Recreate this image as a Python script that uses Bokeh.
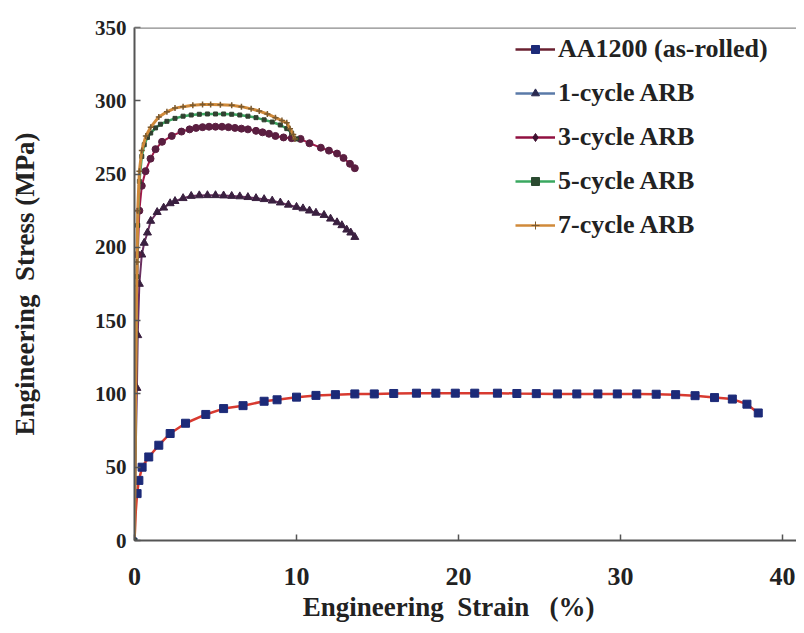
from bokeh.plotting import figure
from bokeh.models import Legend, LegendItem, Span, Range1d, FixedTicker
from bokeh.embed import file_html
from bokeh.resources import INLINE

# ---- data ----
aa_strain = [0, 0.08, 0.16, 0.27, 0.47, 0.88, 1.5, 2.2, 3.15, 4.4, 5.5, 6.7, 8.0, 8.8, 10.0,
             11.2, 12.4, 13.6, 14.8, 16.0, 17.4, 18.6, 19.8, 21.0, 22.4, 23.6, 24.8, 26.1,
             27.3, 28.6, 29.8, 31.0, 32.2, 33.4, 34.6, 35.8, 36.9, 37.8, 38.5]
aa_stress = [0, 20, 32, 41, 50, 57, 65, 73, 80, 86, 90, 92, 95, 96, 97.8,
             99, 99.5, 100, 100, 100.3, 100.5, 100.5, 100.5, 100.5, 100.5, 100.3, 100.2, 100,
             100, 100, 100, 100, 99.8, 99.5, 98.8, 97.5, 96.5, 93, 87]

c1_strain = [0, 0.05, 0.1, 0.15, 0.2, 0.3, 0.45, 0.6, 0.8, 1.0, 1.4, 1.8, 2.2, 2.5, 3.0, 3.5,
             4.0, 4.5, 5.0, 5.5, 6.0, 6.5, 7.0, 7.5, 8.0, 8.5, 9.0, 9.5, 10.0, 10.4, 10.8,
             11.2, 11.7, 12.1, 12.5, 12.8, 13.1, 13.35, 13.6]
c1_stress = [0, 40, 75, 104, 140, 175, 195, 203, 210, 218, 224, 227, 230, 231.5, 233.5, 235,
             235.4, 235.5, 235.5, 235.3, 235, 234.7, 234.2, 233.5, 232.8, 231.8, 230.5, 229,
             227.5, 226.5, 225, 223.5, 222, 219.5, 217, 215, 212, 210, 207]

c3_strain = [0, 0.05, 0.1, 0.15, 0.2, 0.3, 0.45, 0.68, 0.99, 1.3, 1.7, 2.3, 2.9, 3.4, 3.8,
             4.2, 4.6, 5.0, 5.4, 5.8, 6.2, 6.6, 7.0, 7.5, 7.9, 8.3, 8.7, 9.2, 9.7, 10.25,
             10.8, 11.5, 12.0, 12.5, 12.9, 13.3, 13.6]
c3_stress = [0, 60, 110, 160, 195, 225, 242, 252, 260.5, 267, 272, 276, 279, 280.5, 281.5,
             282, 282.3, 282.3, 282.3, 282, 281.5, 281, 280.5, 279.5, 278.5, 277.5, 276, 275,
             274.5, 274, 271, 268, 266, 264, 261, 257, 254]

c5_strain = [0, 0.05, 0.1, 0.15, 0.2, 0.3, 0.45, 0.6, 0.8, 1.0, 1.3, 1.6, 2.0, 2.5, 3.0, 3.5,
             4.0, 4.5, 5.0, 5.5, 6.0, 6.5, 7.0, 7.5, 8.0, 8.5, 9.0, 9.4, 9.7, 10.0]
c5_stress = [0, 70, 130, 180, 215, 245, 262, 270, 275, 278, 281.5, 284, 286, 288, 289.5,
             290.3, 290.8, 291, 291, 291, 290.8, 290.3, 289.5, 288.5, 287, 285.5, 283.5,
             281, 278, 274]

c7_strain = [0, 0.05, 0.1, 0.15, 0.2, 0.3, 0.45, 0.7, 1.0, 1.5, 2.0, 2.5, 3.0, 3.6, 4.2, 4.7,
             5.3, 6.0, 6.6, 7.2, 7.7, 8.2, 8.7, 9.1, 9.4, 9.6, 9.8, 9.9]
c7_stress = [0, 80, 140, 190, 225, 252, 266, 276, 282, 289, 292.5, 295, 296, 297, 297.5,
             297.5, 297.3, 297, 296, 294.5, 293, 291, 288.5, 286.5, 285, 281, 277, 274]

series_names = ["AA1200 (as-rolled)", "1-cycle ARB", "3-cycle ARB", "5-cycle ARB", "7-cycle ARB"]
x_ticks = [0, 10, 20, 30, 40]
y_ticks = [0, 50, 100, 150, 200, 250, 300, 350]

FONT = "Liberation Serif"
NB = "\u00a0"

p = figure(width=796, height=625, output_backend="svg", toolbar_location=None,
           x_range=Range1d(0, 40.86), y_range=Range1d(0, 350),
           min_border_left=134, min_border_right=0, min_border_top=27, min_border_bottom=85)
p.background_fill_color = "white"
p.border_fill_color = "white"
p.outline_line_color = None
p.grid.visible = False

for ax in (p.xaxis[0], p.yaxis[0]):
    ax.axis_line_color = "#555555"
    ax.axis_line_width = 2
    ax.major_tick_line_color = "#555555"
    ax.major_tick_line_width = 1.5
    ax.major_tick_in = 6
    ax.major_tick_out = 0
    ax.minor_tick_line_color = None
    ax.major_label_text_font = FONT
    ax.major_label_text_font_style = "bold"
    ax.major_label_text_color = "#222222"
    ax.axis_label_text_font = FONT
    ax.axis_label_text_font_style = "bold"
    ax.axis_label_text_color = "#222222"

p.xaxis.ticker = FixedTicker(ticks=x_ticks)
p.yaxis.ticker = FixedTicker(ticks=y_ticks)
p.xaxis.major_label_text_font_size = "26px"
p.yaxis.major_label_text_font_size = "21px"
p.xaxis.axis_label = "Engineering" + NB + NB + "Strain" + NB + NB + NB + "(%)" + NB * 5
p.yaxis.axis_label = "Engineering" + NB + NB + "Stress" + NB + "(MPa)"
p.xaxis.axis_label_text_font_size = "27px"
p.yaxis.axis_label_text_font_size = "27px"
p.xaxis.major_label_standoff = 27
p.yaxis.major_label_standoff = 8
p.xaxis.axis_label_standoff = 4
p.yaxis.axis_label_standoff = 52

p.add_layout(Span(location=350, dimension="width", line_color="#8a8a8a", line_width=2.5))

r_aa_l = p.line(aa_strain, aa_stress, line_color="#d83a30", line_width=2.5)
r_aa_m = p.scatter(aa_strain[2:], aa_stress[2:], marker="square", size=8,
                   fill_color="#1c2a78", line_color="#1c2a78")

r_1_l = p.line(c1_strain, c1_stress, line_color="#6a3060", line_width=2)
r_1_m = p.scatter(c1_strain[3:], c1_stress[3:], marker="triangle", size=8,
                  fill_color="#3a2040", line_color="#3a2040")

r_3_l = p.line(c3_strain, c3_stress, line_color="#a01848", line_width=2)
r_3_m = p.scatter(c3_strain[4:], c3_stress[4:], marker="circle", size=7,
                  fill_color="#5a1e40", line_color="#5a1e40")

r_5_l = p.line(c5_strain, c5_stress, line_color="#3aa860", line_width=2.5)
r_5_m = p.scatter(c5_strain[3:], c5_stress[3:], marker="square", size=4,
                  fill_color="#304030", line_color="#304030")

r_7_l = p.line(c7_strain, c7_stress, line_color="#d08a3a", line_width=3)
r_7_m = p.scatter(c7_strain[3:], c7_stress[3:], marker="cross", size=6,
                  line_color="#7a5a30", line_width=1.5)

# legend-only glyphs (small markers as in the reference legend)
lg = []
leg_specs = [("#6a2030", "#1c2a78", "square", 5),
             ("#5a7aa8", "#2a2a50", "triangle", 6),
             ("#901040", "#401030", "diamond", 7),
             ("#3aa860", "#2a4a30", "square", 4),
             ("#d08a3a", "#7a5a30", "cross", 6)]
for lc, mc, mk, sz in leg_specs:
    l = p.line([None], [None], line_color=lc, line_width=2.5)
    m = p.scatter([None], [None], marker=mk, size=sz, fill_color=mc, line_color=mc)
    lg.append([l, m])

legend = Legend(items=[LegendItem(label=n, renderers=r) for n, r in zip(series_names, lg)],
                location=(381, 293), orientation="vertical",
                label_text_font=FONT, label_text_font_style="bold",
                label_text_font_size="26px", label_text_color="#222222",
                glyph_width=40, glyph_height=20, label_height=44, label_standoff=3,
                spacing=0, padding=0, margin=0,
                background_fill_alpha=0, border_line_color=None)
p.add_layout(legend, "center")

open("out.html", "w").write(file_html(p, INLINE))
